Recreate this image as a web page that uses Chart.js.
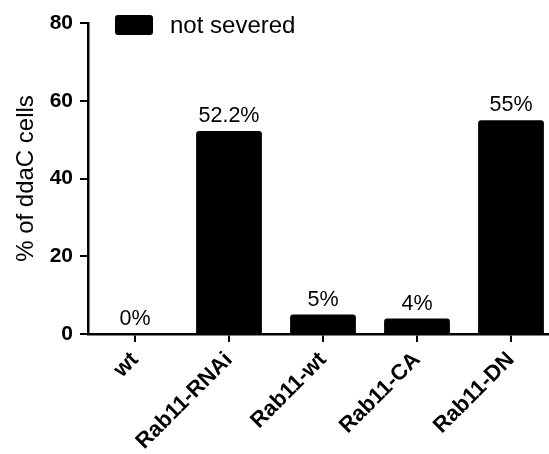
<!DOCTYPE html>
<html>
<head>
<meta charset="utf-8">
<script src="https://cdn.jsdelivr.net/npm/chart.js@4"></script>
<style>
  html, body { margin: 0; padding: 0; background: #fff; overflow: hidden; }
  #wrap { width: 549px; height: 454px; overflow: hidden; position: relative; }
  canvas { display: block; }
</style>
</head>
<body>
<div id="wrap"><canvas id="c" width="560" height="454"></canvas></div>
<script>
const categories = ['wt', 'Rab11-RNAi', 'Rab11-wt', 'Rab11-CA', 'Rab11-DN'];
const notSevered = [0, 52.2, 5, 4, 55];
const valueLabels = ['0%', '52.2%', '5%', '4%', '55%'];
const yTicks = [0, 20, 40, 60, 80];
const seriesName = 'not severed';
const yTitle = '% of ddaC cells';

const FONT = "'Liberation Sans', Arial, Helvetica, sans-serif";

// value labels above each bar
const barLabels = {
  id: 'barLabels',
  afterDatasetsDraw(chart) {
    const ctx = chart.ctx;
    const meta = chart.getDatasetMeta(0);
    ctx.save();
    ctx.fillStyle = '#000';
    ctx.font = '21.5px ' + FONT;
    ctx.textAlign = 'center';
    ctx.textBaseline = 'bottom';
    meta.data.forEach((bar, i) => {
      ctx.fillText(valueLabels[i], bar.x, bar.y - 4);
    });
    ctx.restore();
  }
};

// legend swatch and text inside the plot area, top-left
const insetLegend = {
  id: 'insetLegend',
  afterDraw(chart) {
    const ctx = chart.ctx;
    const ds = chart.data.datasets[0];
    const x = 115, y = 15, w = 38, h = 20;
    ctx.save();
    ctx.fillStyle = ds.backgroundColor;
    ctx.beginPath();
    ctx.roundRect(x, y, w, h, 3);
    ctx.fill();
    ctx.font = '24px ' + FONT;
    ctx.textAlign = 'left';
    ctx.textBaseline = 'middle';
    ctx.fillText(ds.label, 170, y + h / 2 + 1);
    ctx.restore();
  }
};

new Chart(document.getElementById('c'), {
  type: 'bar',
  data: {
    labels: categories,
    datasets: [{
      label: seriesName,
      data: notSevered,
      backgroundColor: '#000',
      borderWidth: 0,
      borderRadius: 3,
      borderSkipped: 'bottom',
      barPercentage: 0.70,
      categoryPercentage: 1.0
    }]
  },
  options: {
    responsive: false,
    animation: false,
    devicePixelRatio: 1,
    layout: { padding: { top: 23, right: 2, left: 0, bottom: 0 } },
    plugins: {
      legend: { display: false },
      tooltip: { enabled: false }
    },
    scales: {
      x: {
        offset: true,
        grid: { display: true, drawOnChartArea: false, offset: false, color: '#000', lineWidth: 2, tickLength: 8 },
        border: { display: true, color: '#000', width: 2.5 },
        ticks: {
          color: '#000',
          font: { family: FONT, size: 22, weight: 'bold' },
          maxRotation: 45, minRotation: 45,
          padding: 5,
          autoSkip: false
        },
        afterFit(scale) { scale.height = 120; }
      },
      y: {
        min: 0, max: 80,
        afterBuildTicks(scale) { scale.ticks = yTicks.map(v => ({ value: v })); },
        grid: { display: true, drawOnChartArea: false, color: '#000', lineWidth: 2, tickLength: 8 },
        border: { display: true, color: '#000', width: 2.5 },
        ticks: {
          color: '#000',
          font: { family: FONT, size: 21, weight: 'bold' },
          padding: 7
        },
        title: {
          display: true,
          text: yTitle,
          color: '#000',
          font: { family: FONT, size: 24 },
          padding: { top: 12, bottom: 4 }
        },
        afterFit(scale) { scale.width = 88; }
      }
    }
  },
  plugins: [barLabels, insetLegend]
});
</script>
</body>
</html>
